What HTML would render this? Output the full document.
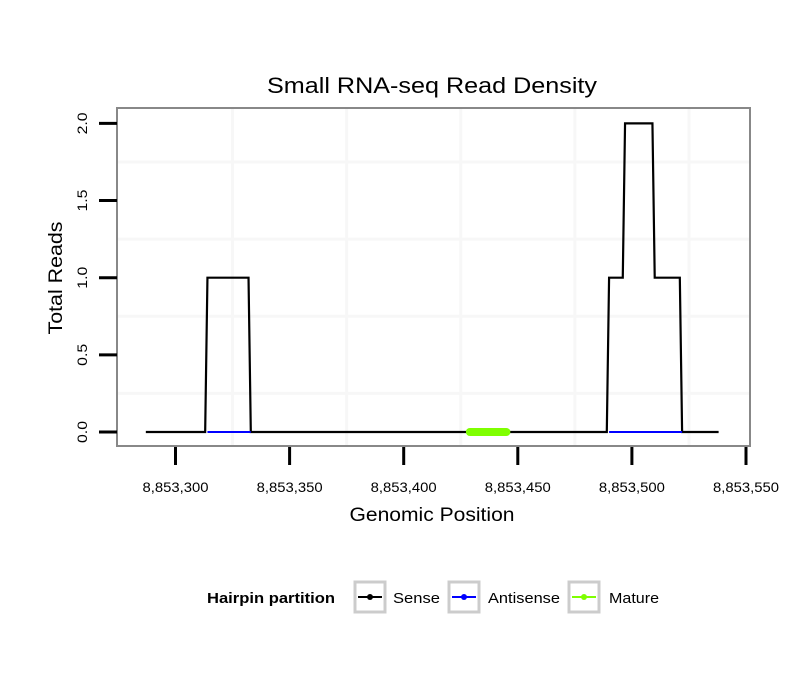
<!DOCTYPE html>
<html><head><meta charset="utf-8"><style>
body{margin:0;background:#fff;font-family:"Liberation Sans",sans-serif}
svg text{font-family:"Liberation Sans",sans-serif}
</style></head><body>
<svg id="c" width="810" height="690" viewBox="0 0 810 690"></svg>
<script>
const xTicks=[8853300,8853350,8853400,8853450,8853500,8853550];
const xTickLabels=["8,853,300","8,853,350","8,853,400","8,853,450","8,853,500","8,853,550"];
const yTicks=[0,0.5,1,1.5,2];
const yTickLabels=["0.0","0.5","1.0","1.5","2.0"];
const senseX=[8853287,8853313,8853314,8853332,8853333,8853489,8853490,8853496,8853497,8853509,8853510,8853521,8853522,8853538];
const senseY=[0,0,1,1,0,0,1,1,2,2,1,1,0,0];
const antisenseSegs=[[8853314,8853333],[8853490,8853522]];
const matureSegs=[[8853429,8853445]];
const NS="http://www.w3.org/2000/svg";
const svg=document.getElementById('c');
function X(v){return 175.5+(v-8853300)*(114.1/50);}
function Y(v){return 432-v*154.3;}
function el(t,a,p){const e=document.createElementNS(NS,t);for(const k in a)e.setAttribute(k,a[k]);(p||svg).appendChild(e);return e;}
const panel=el('rect',{x:117,y:108,width:633,height:338,fill:'#fff'});


const grid=el('g',{});


for(let i=0;i<xTicks.length;i++){
  if(i<xTicks.length-1){const m=(xTicks[i]+xTicks[i+1])/2;el('line',{x1:X(m),x2:X(m),y1:108,y2:446,stroke:'#f7f7f7','stroke-width':3},grid);}
}
for(let i=0;i<yTicks.length;i++){
  if(i<yTicks.length-1){const m=(yTicks[i]+yTicks[i+1])/2;el('line',{x1:117,x2:750,y1:Y(m),y2:Y(m),stroke:'#f7f7f7','stroke-width':3},grid);}
}
let d='';
for(let i=0;i<senseX.length;i++)d+=(i?'L':'M')+X(senseX[i])+','+Y(senseY[i]);
const sl=el('path',{d:d,fill:'none',stroke:'#000','stroke-width':2.2,'stroke-linejoin':'miter'});


for(const s of antisenseSegs){
  const a=el('line',{x1:X(s[0]),x2:X(s[1]),y1:Y(0),y2:Y(0),stroke:'#0000ff','stroke-width':2});
  
  
}
for(const s of matureSegs){
  const m=el('line',{x1:X(s[0]),x2:X(s[1]),y1:Y(0),y2:Y(0),stroke:'#7fff00','stroke-width':8,'stroke-linecap':'round'});
  
  
}
const bd=el('rect',{x:117,y:108,width:633,height:338,fill:'none',stroke:'#888','stroke-width':2});


for(let i=0;i<xTicks.length;i++){
  const x=X(xTicks[i]);
  const t=el('line',{x1:x,x2:x,y1:447,y2:465,stroke:'#000','stroke-width':3});
  
  
  const l=el('text',{x:x,y:492,'text-anchor':'middle','font-size':14,fill:'#000',textLength:66,lengthAdjust:'spacingAndGlyphs'});
  l.textContent=xTickLabels[i];
  
  
}
for(let i=0;i<yTicks.length;i++){
  const y=Y(yTicks[i]);
  const t=el('line',{x1:99,x2:117,y1:y,y2:y,stroke:'#000','stroke-width':3});
  
  
  const l=el('text',{x:0,y:0,'text-anchor':'middle','font-size':14,fill:'#000',textLength:22,lengthAdjust:'spacingAndGlyphs',transform:'translate(87,'+y+') rotate(-90)'});
  l.textContent=yTickLabels[i];
  
  
}
</script>
<svg style="position:absolute;left:0;top:0" width="810" height="690">
<text x="432" y="93" text-anchor="middle" font-size="22" textLength="330" lengthAdjust="spacingAndGlyphs">Small RNA-seq Read Density</text>
<text x="432" y="521" text-anchor="middle" font-size="19" textLength="165" lengthAdjust="spacingAndGlyphs">Genomic Position</text>
<text transform="translate(62,278) rotate(-90)" text-anchor="middle" font-size="19" textLength="113" lengthAdjust="spacingAndGlyphs">Total Reads</text>
<g>
<text x="207" y="603" font-size="15" font-weight="bold" textLength="128" lengthAdjust="spacingAndGlyphs">Hairpin partition</text>
<g>
<rect x="355" y="582" width="30" height="30" fill="#fff" stroke="#ccc" stroke-width="3"/>
<line x1="358" x2="382" y1="597" y2="597" stroke="#000" stroke-width="2"/><circle cx="370" cy="597" r="3" fill="#000"/>
<text x="393" y="603" font-size="15" textLength="47" lengthAdjust="spacingAndGlyphs">Sense</text></g>
<g>
<rect x="449" y="582" width="30" height="30" fill="#fff" stroke="#ccc" stroke-width="3"/>
<line x1="452" x2="476" y1="597" y2="597" stroke="#00f" stroke-width="2"/><circle cx="464" cy="597" r="3" fill="#00f"/>
<text x="488" y="603" font-size="15" textLength="72" lengthAdjust="spacingAndGlyphs">Antisense</text></g>
<g>
<rect x="569" y="582" width="30" height="30" fill="#fff" stroke="#ccc" stroke-width="3"/>
<line x1="572" x2="596" y1="597" y2="597" stroke="#7fff00" stroke-width="2"/><circle cx="584" cy="597" r="3" fill="#7fff00"/>
<text x="609" y="603" font-size="15" textLength="50" lengthAdjust="spacingAndGlyphs">Mature</text></g>
</g>
</svg>
</body></html>
